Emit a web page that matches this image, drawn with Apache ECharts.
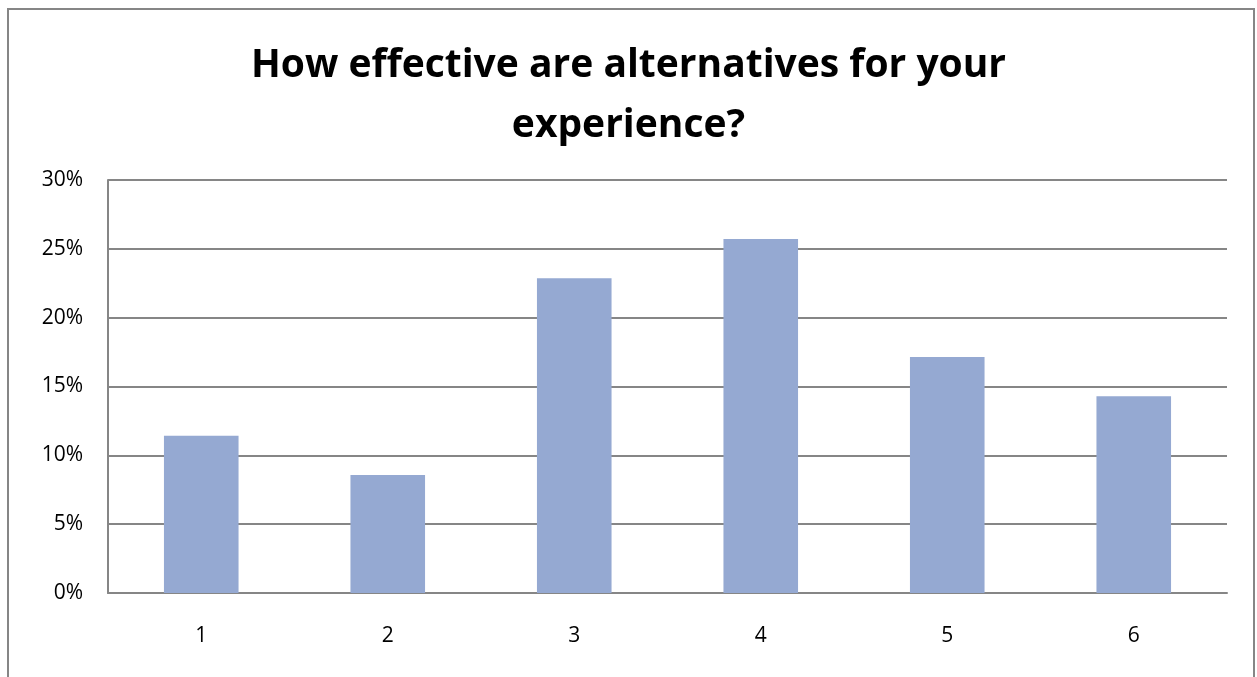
<!DOCTYPE html>
<html>
<head>
<meta charset="utf-8">
<script src="https://cdn.jsdelivr.net/npm/echarts@6/dist/echarts.min.js"></script>
<style>
  html, body { margin: 0; padding: 0; background: #fff; }
  #chart { width: 1257px; height: 677px; }
</style>
</head>
<body>
<div id="chart"></div>
<script>
// Survey answers (rating 1–6), share of respondents
const categories = ['1', '2', '3', '4', '5', '6'];
const shares = [0.1143, 0.0857, 0.2286, 0.2571, 0.1714, 0.1429];
const yTicks = [0, 0.05, 0.10, 0.15, 0.20, 0.25, 0.30];
const titleText = 'How effective are alternatives for your\nexperience?';

const FONT = '"Open Sans", "Noto Sans", sans-serif';
const chart = echarts.init(document.getElementById('chart'), null, { renderer: 'canvas' });

chart.setOption({
  animation: false,
  backgroundColor: '#ffffff',
  graphic: [{
    type: 'rect',
    shape: { x: 8, y: 9, width: 1246, height: 720 },
    style: { fill: 'none', stroke: '#868686', lineWidth: 2 },
    silent: true
  }],
  title: {
    text: titleText,
    left: 'center',
    top: 31,
    textStyle: {
      fontFamily: FONT,
      fontWeight: 'bold',
      fontSize: 39,
      lineHeight: 60,
      color: '#000'
    }
  },
  grid: { left: 108, right: 30, top: 180, bottom: 84, containLabel: false },
  xAxis: {
    type: 'category',
    data: categories,
    axisLine: { show: true, lineStyle: { color: '#868686', width: 2 } },
    axisTick: { show: false },
    axisLabel: { fontFamily: FONT, fontSize: 21, color: '#000', margin: 33 },
    splitLine: { show: false }
  },
  yAxis: {
    type: 'value',
    min: yTicks[0],
    max: yTicks[yTicks.length - 1],
    interval: 0.05,
    axisLine: { show: true, lineStyle: { color: '#868686', width: 2 } },
    axisTick: { show: false },
    axisLabel: {
      fontFamily: FONT, fontSize: 21, color: '#000', margin: 25,
      formatter: v => Math.round(v * 100) + '%'
    },
    splitLine: { show: true, lineStyle: { color: '#868686', width: 2 } }
  },
  series: [{
    type: 'bar',
    data: shares,
    barWidth: '40%',
    itemStyle: { color: '#95A9D2' }
  }]
});
</script>
</body>
</html>
